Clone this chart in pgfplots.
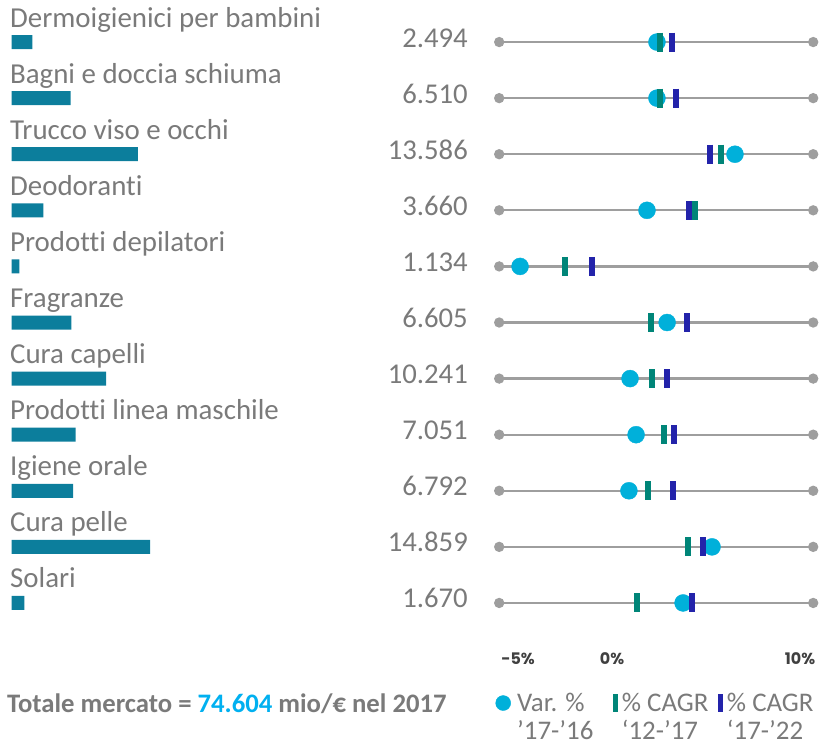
\documentclass[border=0pt]{standalone}
\usepackage{fontspec}
\setmainfont{Carlito}[Ligatures=NoCommon]
\newfontfamily\tickfont{Poppins}
\usepackage{pgfplots}
\pgfplotsset{compat=1.18}
\usepackage{pgfplotstable}

\definecolor{labelgray}{RGB}{122,122,122}
\definecolor{barcol}{RGB}{12,126,156}
\definecolor{cyandot}{RGB}{0,176,218}
\definecolor{tealm}{RGB}{0,133,120}
\definecolor{bluem}{RGB}{35,35,170}
\definecolor{linegray}{RGB}{158,158,158}
\definecolor{numcyan}{RGB}{0,176,240}
\definecolor{tickcol}{RGB}{64,64,64}

\pgfplotstableread{
y v
11 2494
10 6510
9 13586
8 3660
7 1134
6 6605
5 10241
4 7051
3 6792
2 14859
1 1670
}\bardata

\pgfplotstableread{
y var c1217 c1722
11 2.39 2.55 3.19
10 2.39 2.55 3.40
9 6.54 5.80 5.21
8 1.86 4.43 4.12
7 -4.89 -2.50 -1.06
6 2.93 2.07 3.99
5 0.96 2.13 2.93
4 1.28 2.77 3.30
3 0.90 1.91 3.24
2 5.32 4.04 4.84
1 3.78 1.33 4.26
}\dotdata

\newcommand\lblfont{\fontsize{29}{31}\selectfont}
\newcommand\valfont{\fontsize{28.8}{31}\selectfont}
\newcommand\catlbl[2]{\node[anchor=base west, inner sep=0pt, font=\lblfont, text=labelgray, yshift=15bp] at (axis cs:-32.02,#1) {#2};}
\newcommand\vallbl[2]{\node[anchor=base east, inner sep=0pt, font=\valfont, text=labelgray, yshift=-5bp] at (axis cs:-7.66,#1) {#2};}

\begin{document}
\begin{tikzpicture}
\useasboundingbox (0,0) rectangle (819bp,-746bp);

% bars
\begin{axis}[
  at={(11.7bp,-14bp)}, anchor=north west,
  scale only axis, width=139.7bp, height=617bp,
  xmin=330, xmax=15000, ymin=0.5, ymax=11.5,
  hide axis, clip=true]
\addplot[xbar, bar width=14bp, fill=barcol, draw=none] table[x=v, y=y] {\bardata};
\end{axis}

% dot plot
\begin{axis}[
  at={(499.2bp,-14bp)}, anchor=north west,
  scale only axis, width=314bp, height=617bp,
  xmin=-6, xmax=10.7, ymin=0.5, ymax=11.5,
  clip=false,
  axis x line*=bottom, axis y line=none,
  x axis line style={draw=none},
  xtick={-5,0,10}, xticklabels={-5\%,0\%,10\%},
  major tick length=0pt, ytick=\empty,
  xticklabel style={font=\tickfont\bfseries\fontsize{16}{16}\selectfont, text=tickcol, yshift=-18bp},
  legend columns=3,
  legend cell align=left,
  legend style={at={(axis description cs:-0.0118,-0.0972)}, anchor=north west,
    draw=none, fill=none, inner sep=0pt,
    font=\fontsize{27}{28}\selectfont, text=labelgray,
    cells={align=left, inner sep=0pt},
    /tikz/every odd column/.append style={column sep=4.5bp},
    /tikz/every even column/.append style={column sep=10bp}},
  legend image code/.code={\draw[#1] plot coordinates {(0bp,14bp)};},
]
\pgfplotsinvokeforeach{1,...,11}{
  \addplot[color=linegray, line width=2.2bp, mark=*, mark size=4bp,
    mark options={fill=linegray, draw=none}, forget plot] coordinates {(-6,#1) (10.7,#1)};
}
\addplot[color=cyandot, only marks, mark=*, mark size=8.5bp, mark options={draw=none, fill=cyandot}, forget plot]
  table[x=var, y=y] {\dotdata};
\addplot[color=bluem, only marks, mark=|, mark size=9.5bp, mark options={line width=6bp, draw=bluem}, forget plot]
  table[x=c1722, y=y] {\dotdata};
\addplot[color=tealm, only marks, mark=|, mark size=9.5bp, mark options={line width=6bp, draw=tealm}, forget plot]
  table[x=c1217, y=y] {\dotdata};

\addlegendimage{color=cyandot, only marks, mark=*, mark size=7.5bp, mark options={draw=none, fill=cyandot}}
\addlegendentry{Var. \%\\’17-’16\hspace*{10bp}}
\addlegendimage{color=tealm, only marks, mark=|, mark size=9bp, mark options={line width=4.5bp, draw=tealm}}
\addlegendentry{\% CAGR\\‘12-’17}
\addlegendimage{color=bluem, only marks, mark=|, mark size=9bp, mark options={line width=4.5bp, draw=bluem}}
\addlegendentry{\% CAGR\\‘17-’22}

\catlbl{11}{Dermoigienici per bambini}
\catlbl{10}{Bagni e doccia schiuma}
\catlbl{9}{Trucco viso e occhi}
\catlbl{8}{Deodoranti}
\catlbl{7}{Prodotti depilatori}
\catlbl{6}{Fragranze}
\catlbl{5}{Cura capelli}
\catlbl{4}{Prodotti linea maschile}
\catlbl{3}{Igiene orale}
\catlbl{2}{Cura pelle}
\catlbl{1}{Solari}

\vallbl{11}{2.494}
\vallbl{10}{6.510}
\vallbl{9}{13.586}
\vallbl{8}{3.660}
\vallbl{7}{1.134}
\vallbl{6}{6.605}
\vallbl{5}{10.241}
\vallbl{4}{7.051}
\vallbl{3}{6.792}
\vallbl{2}{14.859}
\vallbl{1}{1.670}
\end{axis}

\node[anchor=base west, inner sep=0pt, font=\bfseries\fontsize{26.8}{28}\selectfont, text=labelgray]
  at (7bp,-712bp) {Totale mercato = \textcolor{numcyan}{74.604} mio/€ nel 2017};
\end{tikzpicture}
\end{document}
